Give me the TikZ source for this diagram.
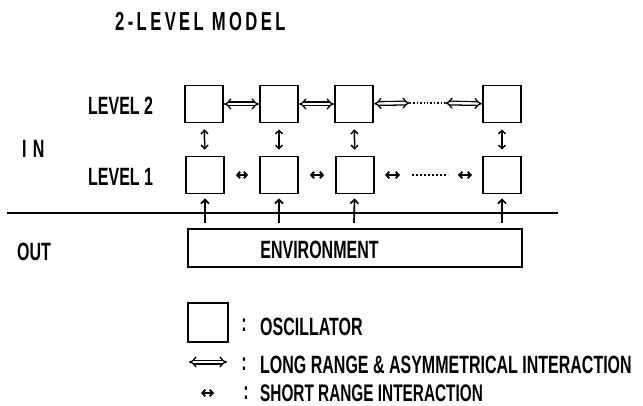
\documentclass[tikz,border=0pt]{standalone}
\usepackage{fontspec}
\setmainfont{Liberation Sans}[FakeStretch=0.64]
\usetikzlibrary{arrows.meta,positioning}

\begin{document}
\begin{tikzpicture}[
  x=1pt,y=-1pt,
  every node/.style={inner sep=0pt,font=\bfseries\fontsize{25}{25}\selectfont},
  osc/.style={draw,line width=1.7pt,minimum width=38pt,minimum height=37pt},
  txt/.style={anchor=west},
  longint/.style={double,line width=1.3pt,double distance=2.4pt,{Implies}-{Implies}},
  shortint/.style={line width=1.9pt,{Straight Barb[length=3pt,width=6.5pt]}-{Straight Barb[length=3pt,width=6.5pt]}},
  vint/.style={line width=1.5pt,{Straight Barb[length=3.5pt,width=7pt]}-{Straight Barb[length=3.5pt,width=7pt]}},
  upin/.style={line width=1.7pt,-{Straight Barb[length=4pt,width=8pt]}},
  dots/.style={line width=1.4pt,dotted}
]
\useasboundingbox (0,0) rectangle (643,406);
% Title and side labels
\node[txt,font=\bfseries\fontsize{26}{26}\selectfont\addfontfeature{LetterSpace=13}] (title) at (115,22) {2-LEVEL MODEL};
\node[txt] (lab2) at (88,106) {LEVEL 2};
\node[txt] (lab1) at (88,177) {LEVEL 1};
\node[txt,font=\bfseries\fontsize{25}{25}\selectfont\addfontfeature{LetterSpace=25}] (in) at (22,149) {IN};
\node[txt] (out) at (17,252) {OUT};
% Level 2 oscillators (top row)
\node[osc] (u1) at (204,104) {};
\node[osc] (u2) at (279,104) {};
\node[osc] (u3) at (354,104) {};
\node[osc] (u4) at (502,104) {};
% Level 1 oscillators (bottom row)
\node[osc] (l1) at (205,175) {};
\node[osc] (l2) at (279,175) {};
\node[osc] (l3) at (355,175) {};
\node[osc] (l4) at (502,175) {};
% Environment
\node[draw,line width=1.7pt,minimum width=334pt,minimum height=38pt] (env) at (355,248) {};
\node (envtxt) at (319.5,250) {ENVIRONMENT};
% IN / OUT border
\coordinate (b1) at (7,213);
\coordinate (b2) at (558,213);
\draw[line width=1.3pt] (b1) -- (b2);
% long range interactions in level 2
\coordinate (d2a) at (410,103);
\coordinate (d2b) at (445,103);
\draw[longint] (u1) -- (u2);
\draw[longint] (u2) -- (u3);
\draw[longint] (u3) -- (d2a);
\draw[dots] (d2a) -- (d2b);
\draw[longint] (d2b) -- (u4);
% short range interactions in level 1
\coordinate (s1a) at (385,175);
\coordinate (s1b) at (400,175);
\coordinate (d1a) at (412,175);
\coordinate (d1b) at (448,175);
\coordinate (s2a) at (458,175);
\coordinate (s2b) at (472,175);
\draw[shortint,shorten <=11pt,shorten >=11pt] (l1) -- (l2);
\draw[shortint,shorten <=11pt,shorten >=11pt] (l2) -- (l3);
\draw[shortint] (s1a) -- (s1b);
\draw[line width=1.3pt,dash pattern=on 2pt off 2pt] (d1a) -- (d1b);
\draw[shortint] (s2a) -- (s2b);
% coupling between levels
\draw[vint,shorten <=6pt,shorten >=6pt] (l1) -- (u1);
\draw[vint,shorten <=6pt,shorten >=6pt] (l2) -- (u2);
\draw[vint,shorten <=6pt,shorten >=6pt] (l3) -- (u3);
\draw[vint,shorten <=6pt,shorten >=6pt] (l4) -- (u4);
% input from environment
\coordinate (e1) at (205,223);
\coordinate (e2) at (279,223);
\coordinate (e3) at (354,223);
\coordinate (e4) at (502,223);
\draw[upin,shorten >=4pt] (e1) -- (l1);
\draw[upin,shorten >=4pt] (e2) -- (l2);
\draw[upin,shorten >=4pt] (e3) -- (l3);
\draw[upin,shorten >=4pt] (e4) -- (l4);
% Legend
\node[osc,minimum width=40pt,minimum height=39pt] (legosc) at (208,322.5) {};
\coordinate (lg1) at (189,362);
\coordinate (lg2) at (227,362);
\draw[longint] (lg1) -- (lg2);
\coordinate (ls1) at (201,393);
\coordinate (ls2) at (214,393);
\draw[shortint] (ls1) -- (ls2);
\node (c1) at (244,325) {:};
\node (c2) at (244,364) {:};
\node (c3) at (246,393) {:};
\node[txt] (t1) at (260,327) {OSCILLATOR};
\node[txt] (t2) at (260,365) {LONG RANGE \& ASYMMETRICAL INTERACTION};
\node[txt,font=\bfseries\fontsize{24}{24}\selectfont] (t3) at (260,393) {SHORT RANGE INTERACTION};
\end{tikzpicture}
\end{document}
